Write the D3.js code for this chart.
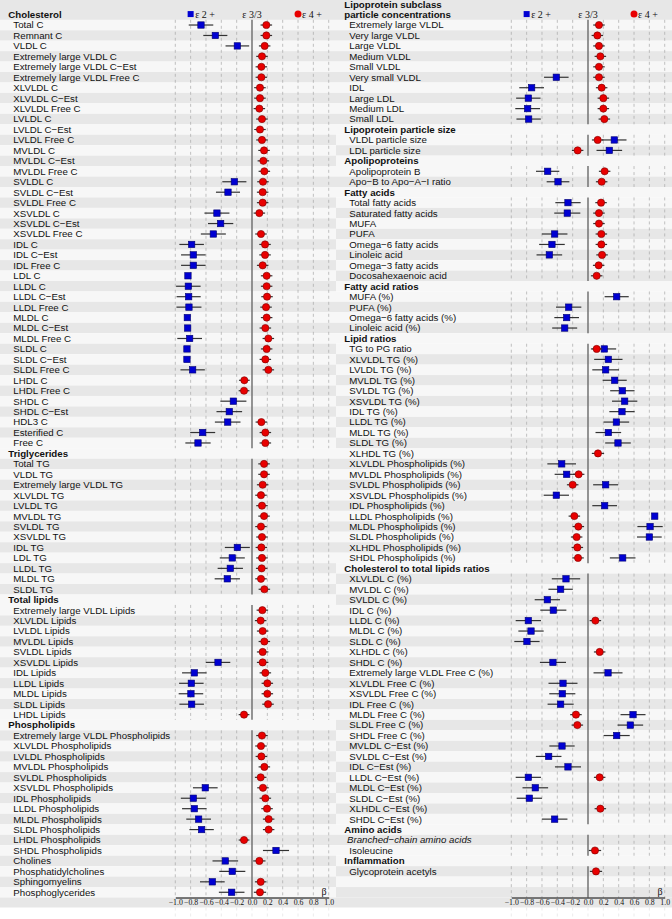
<!DOCTYPE html>
<html>
<head>
<meta charset="utf-8">
<script src="https://cdn.jsdelivr.net/npm/d3@7"></script>
<style>
  body { margin: 0; background: #fff; }
  svg { display: block; }
</style>
</head>
<body>
<svg id="chart" width="672" height="919"></svg>
<script>
// "H:" = group header, "I:" = italic sub-header, "" = blank row
const leftRows = [
  "H:Cholesterol", "Total C", "Remnant C", "VLDL C", "Extremely large VLDL C", "Extremely large VLDL C−Est",
  "Extremely large VLDL Free C", "XLVLDL C", "XLVLDL C−Est", "XLVLDL Free C", "LVLDL C", "LVLDL C−Est",
  "LVLDL Free C", "MVLDL C", "MVLDL C−Est", "MVLDL Free C", "SVLDL C", "SVLDL C−Est", "SVLDL Free C",
  "XSVLDL C", "XSVLDL C−Est", "XSVLDL Free C", "IDL C", "IDL C−Est", "IDL Free C", "LDL C", "LLDL C",
  "LLDL C−Est", "LLDL Free C", "MLDL C", "MLDL C−Est", "MLDL Free C", "SLDL C", "SLDL C−Est", "SLDL Free C",
  "LHDL C", "LHDL Free C", "SHDL C", "SHDL C−Est", "HDL3 C", "Esterified C", "Free C",
  "H:Triglycerides", "Total TG", "VLDL TG", "Extremely large VLDL TG", "XLVLDL TG", "LVLDL TG", "MVLDL TG",
  "SVLDL TG", "XSVLDL TG", "IDL TG", "LDL TG", "LLDL TG", "MLDL TG", "SLDL TG",
  "H:Total lipids", "Extremely large VLDL Lipids", "XLVLDL Lipids", "LVLDL Lipids", "MVLDL Lipids",
  "SVLDL Lipids", "XSVLDL Lipids", "IDL Lipids", "LLDL Lipids", "MLDL Lipids", "SLDL Lipids", "LHDL Lipids",
  "H:Phospholipids", "Extremely large VLDL Phospholipids", "XLVLDL Phospholipids", "LVLDL Phospholipids",
  "MVLDL Phospholipids", "SVLDL Phospholipids", "XSVLDL Phospholipids", "IDL Phospholipids",
  "LLDL Phospholipids", "MLDL Phospholipids", "SLDL Phospholipids", "LHDL Phospholipids",
  "SHDL Phospholipids", "Cholines", "Phosphatidylcholines", "Sphingomyelins", "Phosphoglycerides"
];

const rightRows = [
  "H:Lipoprotein subclass", "H:particle concentrations", "Extremely large VLDL", "Very large VLDL",
  "Large VLDL", "Medium VLDL", "Small VLDL", "Very small VLDL", "IDL", "Large LDL", "Medium LDL", "Small LDL",
  "H:Lipoprotein particle size", "VLDL particle size", "LDL particle size",
  "H:Apolipoproteins", "Apolipoprotein B", "Apo−B to Apo−A−I ratio",
  "H:Fatty acids", "Total fatty acids", "Saturated fatty acids", "MUFA", "PUFA", "Omega−6 fatty acids",
  "Linoleic acid", "Omega−3 fatty acids", "Docosahexaenoic acid",
  "H:Fatty acid ratios", "MUFA (%)", "PUFA (%)", "Omega−6 fatty acids (%)", "Linoleic acid (%)",
  "H:Lipid ratios", "TG to PG ratio", "XLVLDL TG (%)", "LVLDL TG (%)", "MVLDL TG (%)", "SVLDL TG (%)",
  "XSVLDL TG (%)", "IDL TG (%)", "LLDL TG (%)", "MLDL TG (%)", "SLDL TG (%)", "XLHDL TG (%)",
  "XLVLDL Phospholipids (%)", "MVLDL Phospholipids (%)", "SVLDL Phospholipids (%)", "XSVLDL Phospholipids (%)",
  "IDL Phospholipids (%)", "LLDL Phospholipids (%)", "MLDL Phospholipids (%)", "SLDL Phospholipids (%)",
  "XLHDL Phospholipids (%)", "SHDL Phospholipids (%)",
  "H:Cholesterol to total lipids ratios", "XLVLDL C (%)", "MVLDL C (%)", "SVLDL C (%)", "IDL C (%)",
  "LLDL C (%)", "MLDL C (%)", "SLDL C (%)", "XLHDL C (%)", "SHDL C (%)", "Extremely large VLDL Free C (%)",
  "XLVLDL Free C (%)", "XSVLDL Free C (%)", "IDL Free C (%)", "MLDL Free C (%)", "SLDL Free C (%)",
  "SHDL Free C (%)", "MVLDL C−Est (%)", "SVLDL C−Est (%)", "IDL C−Est (%)", "LLDL C−Est (%)",
  "MLDL C−Est (%)", "SLDL C−Est (%)", "XLHDL C−Est (%)", "SHDL C−Est (%)",
  "H:Amino acids", "I:Branched−chain amino acids", "Isoleucine", "H:Inflammation", "Glycoprotein acetyls", "", ""
];

// [label, beta, half width of 95% CI]
const leftE2 = [
  ["Total C", -0.665, 0.16], ["Remnant C", -0.478, 0.157], ["VLDL C", -0.191, 0.154],
  ["SVLDL C", -0.23, 0.157], ["SVLDL C−Est", -0.313, 0.157], ["XSVLDL C", -0.457, 0.163],
  ["XSVLDL C−Est", -0.409, 0.165], ["XSVLDL Free C", -0.504, 0.163], ["IDL C", -0.787, 0.16],
  ["IDL C−Est", -0.765, 0.16], ["IDL Free C", -0.765, 0.16], ["LDL C", -0.835, 0.03],
  ["LLDL C", -0.83, 0.16], ["LLDL C−Est", -0.826, 0.157], ["LLDL Free C", -0.822, 0.163],
  ["MLDL C", -0.843, 0.03], ["MLDL C−Est", -0.839, 0.03], ["MLDL Free C", -0.813, 0.161],
  ["SLDL C", -0.848, 0.03], ["SLDL C−Est", -0.848, 0.03], ["SLDL Free C", -0.774, 0.159],
  ["SHDL C", -0.243, 0.17], ["SHDL C−Est", -0.296, 0.167], ["HDL3 C", -0.317, 0.167],
  ["Esterified C", -0.643, 0.163], ["Free C", -0.704, 0.165],
  ["IDL TG", -0.191, 0.163], ["LDL TG", -0.257, 0.163], ["LLDL TG", -0.283, 0.165], ["MLDL TG", -0.322, 0.165],
  ["XSVLDL Lipids", -0.443, 0.16], ["IDL Lipids", -0.752, 0.16], ["LLDL Lipids", -0.791, 0.16],
  ["MLDL Lipids", -0.796, 0.16], ["SLDL Lipids", -0.787, 0.16],
  ["XSVLDL Phospholipids", -0.609, 0.161], ["IDL Phospholipids", -0.765, 0.163],
  ["LLDL Phospholipids", -0.752, 0.16], ["MLDL Phospholipids", -0.696, 0.161],
  ["SLDL Phospholipids", -0.657, 0.159], ["SHDL Phospholipids", 0.313, 0.17], ["Cholines", -0.348, 0.167],
  ["Phosphatidylcholines", -0.257, 0.17], ["Sphingomyelins", -0.517, 0.161], ["Phosphoglycerides", -0.265, 0.167]
];

const leftE4 = [
  ["Total C", 0.187, 0.075], ["Remnant C", 0.187, 0.075], ["VLDL C", 0.165, 0.075],
  ["Extremely large VLDL C", 0.13, 0.075], ["Extremely large VLDL C−Est", 0.122, 0.075],
  ["Extremely large VLDL Free C", 0.122, 0.075], ["XLVLDL C", 0.104, 0.075], ["XLVLDL C−Est", 0.104, 0.075],
  ["XLVLDL Free C", 0.096, 0.075], ["LVLDL C", 0.13, 0.075], ["LVLDL C−Est", 0.104, 0.075],
  ["LVLDL Free C", 0.13, 0.075], ["MVLDL C", 0.157, 0.075], ["MVLDL C−Est", 0.148, 0.075],
  ["MVLDL Free C", 0.161, 0.075], ["SVLDL C", 0.143, 0.075], ["SVLDL C−Est", 0.139, 0.075],
  ["SVLDL Free C", 0.139, 0.075], ["XSVLDL C", 0.096, 0.075], ["XSVLDL Free C", 0.117, 0.075],
  ["IDL C", 0.17, 0.075], ["IDL C−Est", 0.17, 0.075], ["IDL Free C", 0.139, 0.075], ["LDL C", 0.191, 0.075],
  ["LLDL C", 0.191, 0.075], ["LLDL C−Est", 0.196, 0.075], ["LLDL Free C", 0.183, 0.075],
  ["MLDL C", 0.191, 0.075], ["MLDL C−Est", 0.174, 0.075], ["MLDL Free C", 0.213, 0.075],
  ["SLDL C", 0.191, 0.075], ["SLDL C−Est", 0.174, 0.075], ["SLDL Free C", 0.213, 0.075],
  ["LHDL C", -0.1, 0.07], ["LHDL Free C", -0.104, 0.07], ["HDL3 C", 0.122, 0.075],
  ["Esterified C", 0.174, 0.075], ["Free C", 0.174, 0.075],
  ["Total TG", 0.157, 0.075], ["VLDL TG", 0.157, 0.075], ["Extremely large VLDL TG", 0.139, 0.075],
  ["XLVLDL TG", 0.117, 0.075], ["LVLDL TG", 0.13, 0.075], ["MVLDL TG", 0.157, 0.075], ["SVLDL TG", 0.117, 0.075],
  ["XSVLDL TG", 0.13, 0.075], ["IDL TG", 0.122, 0.075], ["LDL TG", 0.13, 0.075], ["LLDL TG", 0.126, 0.075],
  ["MLDL TG", 0.117, 0.075], ["SLDL TG", 0.161, 0.075],
  ["Extremely large VLDL Lipids", 0.135, 0.075], ["XLVLDL Lipids", 0.113, 0.075], ["LVLDL Lipids", 0.139, 0.075],
  ["MVLDL Lipids", 0.161, 0.075], ["SVLDL Lipids", 0.139, 0.075], ["XSVLDL Lipids", 0.139, 0.075],
  ["IDL Lipids", 0.174, 0.075], ["LLDL Lipids", 0.2, 0.075], ["MLDL Lipids", 0.2, 0.075],
  ["SLDL Lipids", 0.209, 0.075], ["LHDL Lipids", -0.104, 0.07],
  ["Extremely large VLDL Phospholipids", 0.13, 0.075], ["XLVLDL Phospholipids", 0.117, 0.075],
  ["LVLDL Phospholipids", 0.122, 0.075], ["MVLDL Phospholipids", 0.161, 0.075],
  ["SVLDL Phospholipids", 0.113, 0.075], ["XSVLDL Phospholipids", 0.143, 0.075],
  ["IDL Phospholipids", 0.174, 0.075], ["LLDL Phospholipids", 0.196, 0.075],
  ["MLDL Phospholipids", 0.217, 0.075], ["SLDL Phospholipids", 0.217, 0.075],
  ["LHDL Phospholipids", -0.104, 0.07], ["Cholines", 0.096, 0.08], ["Sphingomyelins", 0.113, 0.075],
  ["Phosphoglycerides", 0.104, 0.08]
];

const rightE2 = [
  ["Very small VLDL", -0.413, 0.16], ["IDL", -0.735, 0.161], ["Large LDL", -0.778, 0.159],
  ["Medium LDL", -0.787, 0.161], ["Small LDL", -0.774, 0.159],
  ["VLDL particle size", 0.343, 0.159], ["LDL particle size", 0.278, 0.167],
  ["Apolipoprotein B", -0.526, 0.152], ["Apo−B to Apo−A−I ratio", -0.391, 0.148],
  ["Total fatty acids", -0.261, 0.165], ["Saturated fatty acids", -0.27, 0.17], ["PUFA", -0.435, 0.167],
  ["Omega−6 fatty acids", -0.47, 0.167], ["Linoleic acid", -0.504, 0.167],
  ["MUFA (%)", 0.374, 0.157], ["PUFA (%)", -0.252, 0.165], ["Omega−6 fatty acids (%)", -0.278, 0.161],
  ["Linoleic acid (%)", -0.304, 0.163],
  ["TG to PG ratio", 0.213, 0.154], ["XLVLDL TG (%)", 0.265, 0.185], ["LVLDL TG (%)", 0.23, 0.174],
  ["MVLDL TG (%)", 0.348, 0.157], ["SVLDL TG (%)", 0.448, 0.159], ["XSVLDL TG (%)", 0.478, 0.165],
  ["IDL TG (%)", 0.443, 0.165], ["LLDL TG (%)", 0.37, 0.167], ["MLDL TG (%)", 0.265, 0.167],
  ["SLDL TG (%)", 0.391, 0.167], ["XLVLDL Phospholipids (%)", -0.343, 0.187],
  ["MVLDL Phospholipids (%)", -0.278, 0.157], ["SVLDL Phospholipids (%)", 0.23, 0.163],
  ["XSVLDL Phospholipids (%)", -0.413, 0.165], ["IDL Phospholipids (%)", 0.217, 0.161],
  ["LLDL Phospholipids (%)", 0.87, 0.03], ["MLDL Phospholipids (%)", 0.809, 0.165],
  ["SLDL Phospholipids (%)", 0.8, 0.161], ["SHDL Phospholipids (%)", 0.452, 0.167],
  ["XLVLDL C (%)", -0.287, 0.185], ["MVLDL C (%)", -0.357, 0.159], ["SVLDL C (%)", -0.53, 0.165],
  ["IDL C (%)", -0.452, 0.17], ["LLDL C (%)", -0.778, 0.165], ["MLDL C (%)", -0.743, 0.165],
  ["SLDL C (%)", -0.796, 0.165], ["SHDL C (%)", -0.457, 0.17], ["Extremely large VLDL Free C (%)", 0.261, 0.189],
  ["XLVLDL Free C (%)", -0.326, 0.189], ["XSVLDL Free C (%)", -0.335, 0.17], ["IDL Free C (%)", -0.357, 0.17],
  ["MLDL Free C (%)", 0.587, 0.163], ["SLDL Free C (%)", 0.552, 0.167], ["SHDL Free C (%)", 0.374, 0.17],
  ["MVLDL C−Est (%)", -0.339, 0.165], ["SVLDL C−Est (%)", -0.513, 0.167], ["IDL C−Est (%)", -0.261, 0.17],
  ["LLDL C−Est (%)", -0.778, 0.165], ["MLDL C−Est (%)", -0.687, 0.167], ["SLDL C−Est (%)", -0.765, 0.165],
  ["SHDL C−Est (%)", -0.435, 0.167]
];

const rightE4 = [
  ["Extremely large VLDL", 0.143, 0.075], ["Very large VLDL", 0.122, 0.075], ["Large VLDL", 0.143, 0.075],
  ["Medium VLDL", 0.161, 0.075], ["Small VLDL", 0.143, 0.075], ["Very small VLDL", 0.143, 0.075],
  ["IDL", 0.178, 0.075], ["Large LDL", 0.2, 0.075], ["Medium LDL", 0.2, 0.075], ["Small LDL", 0.213, 0.075],
  ["VLDL particle size", 0.126, 0.075], ["LDL particle size", -0.135, 0.075],
  ["Apolipoprotein B", 0.217, 0.075], ["Apo−B to Apo−A−I ratio", 0.178, 0.075],
  ["Total fatty acids", 0.17, 0.075], ["Saturated fatty acids", 0.143, 0.075], ["MUFA", 0.143, 0.075],
  ["PUFA", 0.174, 0.075], ["Omega−6 fatty acids", 0.174, 0.075], ["Linoleic acid", 0.183, 0.075],
  ["Omega−3 fatty acids", 0.139, 0.075], ["Docosahexaenoic acid", 0.113, 0.075],
  ["TG to PG ratio", 0.113, 0.075], ["XLHDL TG (%)", 0.13, 0.08],
  ["MVLDL Phospholipids (%)", -0.122, 0.075], ["SVLDL Phospholipids (%)", -0.2, 0.075],
  ["LLDL Phospholipids (%)", -0.178, 0.075], ["MLDL Phospholipids (%)", -0.126, 0.075],
  ["SLDL Phospholipids (%)", -0.148, 0.075], ["XLHDL Phospholipids (%)", -0.139, 0.075],
  ["SHDL Phospholipids (%)", -0.13, 0.075],
  ["LLDL C (%)", 0.096, 0.075], ["XLHDL C (%)", 0.152, 0.075], ["MLDL Free C (%)", -0.157, 0.075],
  ["SLDL Free C (%)", -0.139, 0.075], ["LLDL C−Est (%)", 0.152, 0.075], ["XLHDL C−Est (%)", 0.161, 0.075],
  ["Isoleucine", 0.091, 0.08], ["Glycoprotein acetyls", 0.104, 0.08]
];

const tickValues = [-1, -0.8, -0.6, -0.4, -0.2, 0, 0.2, 0.4, 0.6, 0.8, 1];
const legendLabels = ["ε 2 +", "ε 3/3", "ε 4 +"];
const axisTitle = "β";

const sans = "'Liberation Sans', Arial, sans-serif";
const serif = "'Liberation Serif', 'Times New Roman', serif";
const grey = "#e7e7e7", light = "#f7f7f7";
const blue = "#0000d2", red = "#e80000";

const svg = d3.select("#chart");
const y = d3.scaleBand().domain(d3.range(-1, 85)).range([-1.1, 897.5]);
const axisY = 897.5;

function drawPanel(rows, start, e2, e4, x0) {
  const g = svg.append("g");
  const x = d3.scaleLinear().domain([-1, 1]).range([x0 + 175.3, x0 + 328.7]);
  const cy = r => y(r) + y.bandwidth() / 2;

  const items = rows.map((s, i) => {
    const kind = s.startsWith("H:") ? "head" : s.startsWith("I:") ? "ital" : "item";
    return { row: start + i, kind: kind, label: kind === "item" ? s : s.slice(2) };
  });
  const rowOf = new Map(items.filter(d => d.kind === "item").map(d => [d.label, d.row]));

  // background stripes, counted over data rows only
  let k = 0;
  items.forEach(d => { d.shade = d.kind === "head" ? false : (k++ % 2 === 1); });
  g.append("rect").attr("x", x0).attr("y", 0).attr("width", 336).attr("height", 919).attr("fill", "#fff");
  g.selectAll("rect.stripe")
    .data(items.filter(d => d.row > 0))
    .join("rect")
    .attr("class", "stripe")
    .attr("x", x0).attr("width", 336)
    .attr("y", d => y(d.row)).attr("height", y.bandwidth())
    .attr("fill", d => d.shade ? grey : light);
  g.append("rect").attr("x", x0).attr("y", 0).attr("width", 336).attr("height", y(1)).attr("fill", grey);
  g.append("rect").attr("x", x0).attr("y", axisY).attr("width", 336).attr("height", 10).attr("fill", grey);

  // runs of consecutive data rows -> grid segments
  const runs = [];
  items.filter(d => d.kind !== "head" && d.row > 0).forEach(d => {
    const last = runs[runs.length - 1];
    if (last && last.end === d.row - 1) last.end = d.row;
    else runs.push({ start: d.row, end: d.row });
  });
  runs.forEach(run => {
    const y1 = y(run.start), y2 = y(run.end) + y.bandwidth();
    g.selectAll(null)
      .data(tickValues.filter(t => t !== 0))
      .join("line")
      .attr("x1", d => x(d)).attr("x2", d => x(d))
      .attr("y1", y1).attr("y2", y2)
      .attr("stroke", "#a8a8a8").attr("stroke-width", 0.7)
      .attr("stroke-dasharray", "3,3");
    g.append("line")
      .attr("x1", x(0)).attr("x2", x(0)).attr("y1", y1).attr("y2", y2)
      .attr("stroke", "#7a7a7a").attr("stroke-width", 1.6);
  });
  // faint lines under the axis
  g.selectAll(null)
    .data(tickValues)
    .join("line")
    .attr("x1", d => x(d)).attr("x2", d => x(d))
    .attr("y1", axisY + 10).attr("y2", 919)
    .attr("stroke", "#e4e4e4").attr("stroke-width", 0.7)
    .attr("stroke-dasharray", "3,3");

  // row labels
  g.selectAll("text.lab")
    .data(items.filter(d => d.label !== ""))
    .join("text")
    .attr("class", "lab")
    .attr("x", d => x0 + (d.kind === "head" ? 8.3 : d.kind === "ital" ? 11 : 13.3))
    .attr("y", d => cy(d.row) + 3.4)
    .attr("font-family", sans).attr("font-size", 9.7)
    .attr("font-weight", d => d.kind === "head" ? "bold" : "normal")
    .attr("font-style", d => d.kind === "ital" ? "italic" : "normal")
    .attr("fill", "#111")
    .text(d => d.label);

  // e2 carriers: error bar + square
  const b2 = e2.map(d => ({ row: rowOf.get(d[0]), beta: d[1], ci: d[2] }));
  g.selectAll("line.ci2").data(b2).join("line")
    .attr("x1", d => x(d.beta - d.ci)).attr("x2", d => x(d.beta + d.ci))
    .attr("y1", d => cy(d.row)).attr("y2", d => cy(d.row))
    .attr("stroke", "#333").attr("stroke-width", 1.2);
  g.selectAll("rect.pt2").data(b2).join("rect")
    .attr("x", d => x(d.beta) - 3.2).attr("y", d => cy(d.row) - 3.2)
    .attr("width", 6.4).attr("height", 6.4)
    .attr("fill", blue).attr("stroke", "#000070").attr("stroke-width", 0.6);

  // e4 carriers: error bar + circle
  const b4 = e4.map(d => ({ row: rowOf.get(d[0]), beta: d[1], ci: d[2] }));
  g.selectAll("line.ci4").data(b4).join("line")
    .attr("x1", d => x(d.beta - d.ci)).attr("x2", d => x(d.beta + d.ci))
    .attr("y1", d => cy(d.row)).attr("y2", d => cy(d.row))
    .attr("stroke", "#333").attr("stroke-width", 1.2);
  g.selectAll("circle.pt4").data(b4).join("circle")
    .attr("cx", d => x(d.beta)).attr("cy", d => cy(d.row)).attr("r", 3.6)
    .attr("fill", red).attr("stroke", "#7a0000").attr("stroke-width", 0.6);

  // legend
  const ly = cy(0);
  g.append("rect").attr("x", x(-0.8) - 3).attr("y", ly - 3.5).attr("width", 6).attr("height", 6)
    .attr("fill", blue);
  g.append("text").attr("x", x(-0.8) + 4.5).attr("y", ly + 3.3)
    .attr("font-family", serif).attr("font-size", 10).attr("fill", "#111").text(legendLabels[0]);
  g.append("text").attr("x", x(0)).attr("y", ly + 3.3).attr("text-anchor", "middle")
    .attr("font-family", serif).attr("font-size", 10).attr("fill", "#111").text(legendLabels[1]);
  g.append("circle").attr("cx", x(0.6)).attr("cy", ly - 0.5).attr("r", 3.5).attr("fill", red);
  g.append("text").attr("x", x(0.6) + 4).attr("y", ly + 3.3)
    .attr("font-family", serif).attr("font-size", 10).attr("fill", "#111").text(legendLabels[2]);

  // x axis
  const ax = g.append("g")
    .attr("transform", `translate(0,${axisY})`)
    .call(d3.axisBottom(x).tickValues(tickValues).tickSize(0).tickPadding(1.5).tickFormat(d3.format(".1f")));
  ax.select(".domain").attr("stroke", "#000").attr("stroke-width", 1);
  ax.selectAll("text").attr("font-family", serif).attr("font-size", 7.8).attr("fill", "#111");

  g.append("text").attr("x", x(0.94)).attr("y", cy(84) + 3)
    .attr("text-anchor", "middle")
    .attr("font-family", serif).attr("font-size", 10).attr("fill", "#111").text(axisTitle);
}

drawPanel(leftRows, 0, leftE2, leftE4, 0);
drawPanel(rightRows, -1, rightE2, rightE4, 336);
</script>
</body>
</html>
